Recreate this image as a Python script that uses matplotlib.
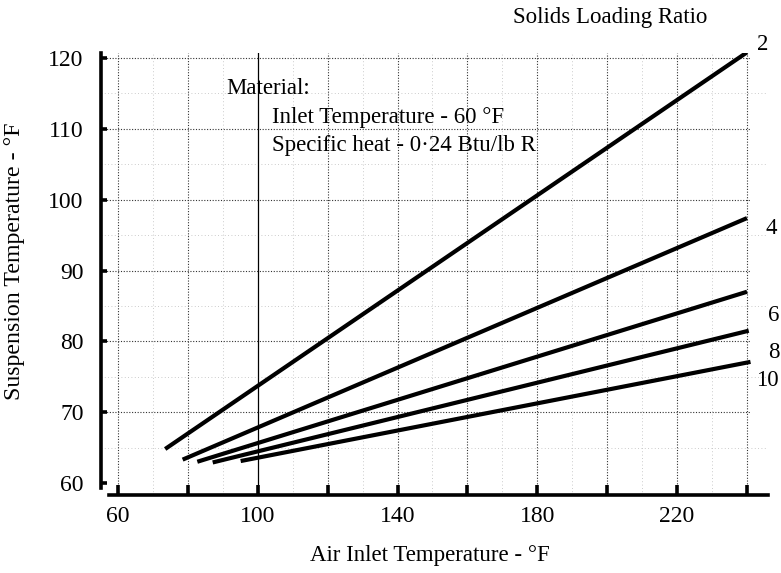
import matplotlib
matplotlib.use("Agg")
import matplotlib.pyplot as plt
import numpy as np

# Solids loading ratio curves: straight lines from start to end point
ratios = ["2", "4", "6", "8", "10"]
x_start = [73.5, 78.5, 82.7, 87.1, 95.1]
y_start = [64.8, 63.3, 63.0, 62.9, 63.1]
x_end = [240.0, 240.0, 240.0, 240.5, 241.0]
y_end = [120.8, 97.4, 87.0, 81.5, 77.1]

# label positions for the ratio numbers (data coordinates)
label_x = [244.6, 246.8, 247.6, 247.6, 245.8]
label_y = [121.9, 96.0, 83.7, 78.4, 74.4]

x_ticks = [60, 80, 100, 120, 140, 160, 180, 200, 220, 240]
x_labels = ["60", "", "100", "", "140", "", "180", "", "220", ""]
y_ticks = [60, 70, 80, 90, 100, 110, 120]

plt.rcParams["font.family"] = ["Liberation Serif", "DejaVu Serif"]

FS = 16.5

fig = plt.figure(figsize=(7.81, 5.73), dpi=100)
ax = fig.add_axes([101 / 781, 1 - 495 / 573, (768 - 101) / 781, (495 - 53) / 573])

px_per_x = (747 - 118) / 180.0
px_per_y = (483 - 58) / 60.0
ax.set_xlim(60 - (118 - 101) / px_per_x, 60 + (768 - 118) / px_per_x)
ax.set_ylim(60 - (495 - 483) / px_per_y, 120 + (58 - 53) / px_per_y)

# faint minor grid
for xv in np.arange(70, 245, 20):
    ax.axvline(xv, color="#bbbbbb", lw=0.6, ls=(0, (1, 3)), zorder=0)
for yv in np.arange(65, 121, 10):
    ax.axhline(yv, color="#bbbbbb", lw=0.6, ls=(0, (1, 3)), zorder=0)

# major dotted grid
for xv in x_ticks:
    if xv == 100:
        ax.axvline(xv, color="black", lw=0.9, zorder=1)
    else:
        ax.axvline(xv, color="#333333", lw=0.8, ls=(0, (1, 1.5)), zorder=1)
for yv in y_ticks[1:]:
    ax.axhline(yv, xmax=0.975, color="#333333", lw=0.8, ls=(0, (1, 1.5)), zorder=1)

for xs, ys, xe, ye, lab, lx, ly in zip(x_start, y_start, x_end, y_end,
                                        ratios, label_x, label_y):
    ax.plot([xs, xe], [ys, ye], color="black", lw=3.0, solid_capstyle="butt", zorder=3)
    ax.text(lx, ly, lab, fontsize=FS, ha="center", va="center", clip_on=False)

for s in ["top", "right"]:
    ax.spines[s].set_visible(False)
ax.spines["left"].set_linewidth(2.6)
ax.spines["bottom"].set_linewidth(2.6)
ax.spines["left"].set_bounds(59.3, 120.7)
ax.spines["bottom"].set_bounds(57.5, 246)

ax.set_xticks(x_ticks)
ax.set_xticklabels(x_labels)
ax.set_yticks(y_ticks)
ax.tick_params(axis="x", direction="in", length=7, width=2.6, labelsize=FS + 0.5, pad=8)
ax.tick_params(axis="y", direction="in", length=4, width=2.6, labelsize=FS + 0.5, pad=12.5)

ax.set_xlabel("Air Inlet Temperature - °F", fontsize=FS)
ax.set_ylabel("Suspension Temperature - °F", fontsize=FS + 0.7)
ax.xaxis.set_label_coords((430 - 101) / 667, (495 - 555) / 442)
ax.xaxis.label.set_va("center")
ax.yaxis.set_label_coords((15 - 101) / 667, (495 - 261) / 442)
ax.yaxis.label.set_va("center")

fig.text(610 / 781, 1 - 18 / 573, "Solids Loading Ratio", fontsize=FS,
         ha="center", va="center")
fig.text(226 / 781, 1 - 89 / 573, "Material:", fontsize=FS, ha="left", va="center")
fig.text(272 / 781, 1 - 117 / 573, "Inlet Temperature - 60 °F", fontsize=FS,
         ha="left", va="center")
fig.text(272 / 781, 1 - 145 / 573, "Specific heat - 0·24 Btu/lb R", fontsize=FS,
         ha="left", va="center")

fig.savefig("out.png", dpi=100)
